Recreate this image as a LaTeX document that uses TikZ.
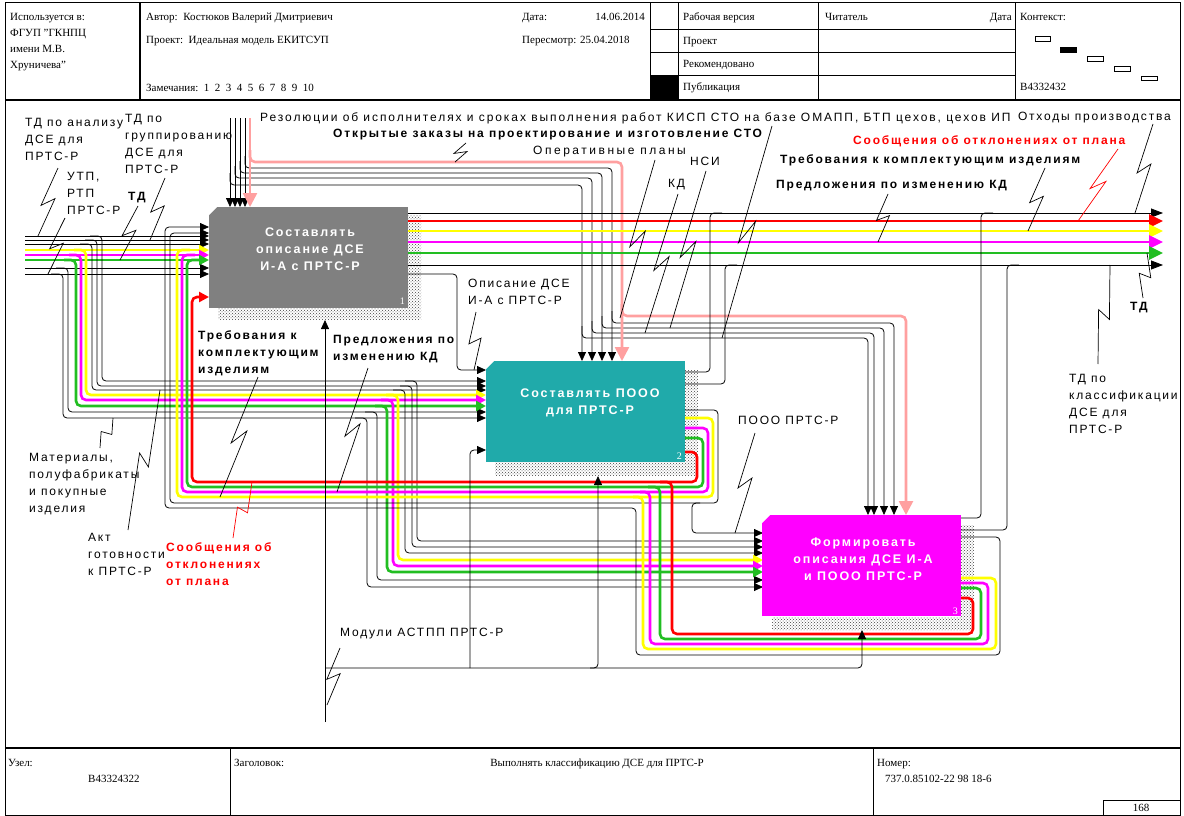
\documentclass[tikz,border=0pt]{standalone}
\usepackage{fontspec}
\setmainfont{Liberation Serif}
\newfontfamily\dg[LetterSpace=15]{Liberation Sans}
\newfontfamily\dgw[LetterSpace=16]{Liberation Sans}
\newfontfamily\dgm[LetterSpace=21]{Liberation Sans}
\usetikzlibrary{arrows.meta,patterns,calc}
\definecolor{pnk}{RGB}{255,160,160}
\definecolor{grn}{RGB}{34,190,34}
\definecolor{ylw}{RGB}{255,255,0}
\definecolor{mgt}{RGB}{255,0,255}
\definecolor{rd}{RGB}{255,0,0}
\definecolor{tl}{RGB}{32,170,170}
\definecolor{gb}{RGB}{128,128,128}
\newcommand\zig[3][black]{\draw[#1,line width=0.7pt] #2 -- ($#2!0.55!#3+(-6,0)$) -- ($#2!0.45!#3+(6,0)$) -- #3;}
\begin{document}
\begin{tikzpicture}[x=1pt,y=-1pt,
  ln/.style={line width=0.8pt,rounded corners=4pt},
  cl/.style={line width=2.6pt,rounded corners=5pt},
  ba/.style={-{Triangle[length=9pt,width=8pt]}},
  bba/.style={-{Triangle[length=12pt,width=9pt]}},
  ca/.style={-{Triangle[length=10pt,width=10pt]}},
  bigca/.style={-{Triangle[length=14pt,width=13pt]}},
  pa/.style={-{Triangle[length=14pt,width=14pt]}},
  ht/.style={font=\fontsize{11}{13}\selectfont,inner sep=0pt,anchor=base west},
  lb/.style={font=\dg\fontsize{12}{17}\selectfont,inner sep=0pt,anchor=north west,align=left},
  lbb/.style={inner sep=0pt,anchor=north west,align=left,font=\dg\bfseries\fontsize{12}{17}\selectfont},
  box/.style={draw=none,anchor=north west,minimum width=199pt,minimum height=101pt,inner sep=0pt},
  bt/.style={text=white,font=\dg\bfseries\fontsize{12.5}{17}\selectfont,align=center,inner sep=0pt},
  bn/.style={text=white,font=\fontsize{10}{10}\selectfont,anchor=south east,inner sep=0pt},
  sh/.style={pattern=crosshatch dots,pattern color=black!75},
]
\useasboundingbox (0,0) rectangle (1184,816);
\fill[white] (0,0) rectangle (1184,816);
% ---------- frame ----------
\draw[line width=1pt] (5,3) rectangle (1180,815);
\draw[line width=2pt] (5,100) -- (1180,100);
\draw[line width=2pt] (5,748) -- (1180,748);
\draw[line width=1.4pt] (140,3) -- (140,100);
\foreach \x in {650,678,818,1015} \draw[line width=1pt] (\x,3) -- (\x,100);
\foreach \y in {30,53,76} \draw[line width=1pt] (650,\y) -- (1015,\y);
\fill (650,76) rectangle (678,100);
\draw[line width=1pt] (230,748) -- (230,815);
\draw[line width=1pt] (873,748) -- (873,815);
\draw[line width=1pt] (1103,800) rectangle (1180,815);
\draw[line width=0.8pt] (1035,36) rectangle (1050,41);
\filldraw[line width=0.8pt] (1060,47) rectangle (1076,52);
\draw[line width=0.8pt] (1087,56) rectangle (1103,61);
\draw[line width=0.8pt] (1114,66) rectangle (1130,71);
\draw[line width=0.8pt] (1141,76) rectangle (1157,80);
% header text
\node[ht] (h1) at (10,21) {Используется в:};
\node[ht] (h2) at (10,37) {ФГУП "ГКНПЦ};
\node[ht] (h3) at (10,53) {имени М.В.};
\node[ht] (h4) at (10,69) {Хруничева"};
\node[ht] (h5) at (146,21) {Автор:\ \ Костюков Валерий Дмитриевич};
\node[ht] (h6) at (146,44) {Проект:\ \ Идеальная модель ЕКИТСУП};
\node[ht] (h7) at (146,92) {Замечания:\ \ 1\ \ 2\ \ 3\ \ 4\ \ 5\ \ 6\ \ 7\ \ 8\ \ 9\ \ 10};
\node[ht] (h8) at (522,21) {Дата:};
\node[ht,anchor=base east] (h9) at (645,21) {14.06.2014};
\node[ht] (h10) at (522,44) {Пересмотр: 25.04.2018};
\node[ht] (h11) at (683,21) {Рабочая версия};
\node[ht] (h12) at (683,45) {Проект};
\node[ht] (h13) at (683,68) {Рекомендовано};
\node[ht] (h14) at (683,91) {Публикация};
\node[ht] (h15) at (825,21) {Читатель};
\node[ht,anchor=base east] (h16) at (1012,21) {Дата};
\node[ht] (h17) at (1020,21) {Контекст:};
\node[ht] (h18) at (1020,91) {B4332432};
% footer text
\node[ht] (f1) at (8,766) {Узел:};
\node[ht] (f2) at (88,782) {B43324322};
\node[ht] (f3) at (234,766) {Заголовок:};
\node[ht,anchor=base] (f4) at (597,766) {Выполнять классификацию ДСЕ для ПРТС-Р};
\node[ht] (f5) at (877,766) {Номер:};
\node[ht] (f6) at (885,782) {737.0.85102-22 98 18-6};
\node[ht,anchor=base] (f7) at (1141,811) {168};
% ---------- shadows ----------
\fill[sh] (408,215) -- (421,215) -- (421,320) -- (218,320) -- (218,307) -- (408,307) -- cycle;
\fill[sh] (685,370) -- (698,370) -- (698,476) -- (495,476) -- (495,462) -- (685,462) -- cycle;
\fill[sh] (961,525) -- (974,525) -- (974,630) -- (772,630) -- (772,617) -- (961,617) -- cycle;
% ---------- left bundle ----------
\foreach \y in {236,240,244,268,274} \draw[ln,ba] (25,\y) -- (209,\y);
\draw[cl,ylw,ca] (25,250) -- (209,250);
\draw[cl,mgt,ca] (25,255) -- (209,255);
\draw[cl,grn,ca] (25,260) -- (209,260);
\foreach \y/\x/\z in {236/102/381,240/97/386,244/92/390,268/68/412,274/63/418}
  \draw[ln,ba] (\x-12,\y) -- (\x,\y) -- (\x,\z) -- (486,\z);
\draw[cl,ylw,ca] (74,250) -- (86,250) -- (86,395) -- (486,395);
\draw[cl,mgt,ca] (69,255) -- (81,255) -- (81,400) -- (486,400);
\draw[cl,grn,ca] (64,260) -- (76,260) -- (76,406) -- (486,406);
\foreach \y/\x/\z in {381/417/541,386/412/547,390/405/553,412/377/580,418/367/587}
  \draw[ln,ba] (\x-12,\y) -- (\x,\y) -- (\x,\z) -- (763,\z);
\draw[cl,ylw,ca] (386,395) -- (398,395) -- (398,560) -- (763,560);
\draw[cl,mgt,ca] (381,400) -- (393,400) -- (393,566) -- (763,566);
\draw[cl,grn,ca] (375,406) -- (387,406) -- (387,572) -- (763,572);
% ---------- top controls ----------
\foreach \x in {230,235,240,245} \draw[ln,ba] (\x,118) -- (\x,207);
\foreach \x/\y/\b/\c/\d in {245/168/612/323/894,240/173/602/328/884,235/178/592/333/874,230/185/582/338/868} {
  \draw[ln,ba] (\x,\y-12) -- (\x,\y) -- (\b,\y) -- (\b,361);
  \draw[ln,ba] (\b,\c-12) -- (\b,\c) -- (\d,\c) -- (\d,515);
}
\draw[cl,pnk,pa] (250,118) -- (250,207);
\draw[cl,pnk,pa] (250,150) -- (250,162) -- (622,162) -- (622,361);
\draw[cl,pnk,pa] (622,304) -- (622,316) -- (906,316) -- (906,515);
% ---------- box 1 outputs ----------
\draw[ln,bba] (408,213) -- (1163,213);
\draw[cl,rd,bigca] (408,221) -- (1163,221);
\draw[cl,ylw,bigca] (408,231) -- (1163,231);
\draw[cl,mgt,bigca] (408,242) -- (1163,242);
\draw[cl,grn,bigca] (408,253) -- (1163,253);
\draw[ln,bba] (408,265) -- (1163,265);
\draw[ln,ba] (408,274) -- (457,274) -- (457,370) -- (486,370);
% ---------- box 2 outputs ----------
\draw[ln] (685,372) -- (710,372) -- (710,213) -- (722,213);
\draw[ln] (685,384) -- (725,384) -- (725,265) -- (737,265);
\draw[ln,ba] (685,410) -- (718,410) -- (718,503) -- (692,503) -- (692,533) -- (763,533);
\draw[ln,ba] (700,503) -- (170,503) -- (170,233) -- (209,233);
\draw[cl,rd,ca] (685,452) -- (697,452) -- (697,482) -- (192,482) -- (192,297) -- (209,297);
\draw[cl,grn] (685,438) -- (703,438) -- (703,487) -- (187,487) -- (187,260) -- (200,260);
\draw[cl,mgt] (685,428) -- (708,428) -- (708,492) -- (182,492) -- (182,255) -- (195,255);
\draw[cl,ylw] (685,418) -- (713,418) -- (713,497) -- (177,497) -- (177,250) -- (190,250);
% ---------- box 3 outputs ----------
\draw[ln] (961,518) -- (981,518) -- (981,213) -- (993,213);
\draw[ln] (961,530) -- (1007,530) -- (1007,265) -- (1019,265);
\draw[ln,ba] (961,537) -- (1000,537) -- (1000,655) -- (636,655) -- (636,508) -- (165,508) -- (165,227) -- (209,227);
\draw[cl,rd] (961,598) -- (973,598) -- (973,634) -- (672,634) -- (672,482) -- (660,482);
\draw[cl,grn] (961,588) -- (981,588) -- (981,639) -- (660,639) -- (660,487) -- (648,487);
\draw[cl,mgt] (961,583) -- (988,583) -- (988,644) -- (650,644) -- (650,492) -- (640,492);
\draw[cl,ylw] (961,578) -- (996,578) -- (996,649) -- (643,649) -- (643,497) -- (633,497);
% ---------- mechanisms ----------
\draw[ln,ba] (325,722) -- (325,320);
\draw[ln,ba] (325,668) -- (598,668) -- (598,476);
\draw[ln,ba] (590,668) -- (862,668) -- (862,630);
\draw[ln,ba] (470,668) -- (470,450) -- (486,450);
% ---------- boxes ----------
\node[box,fill=gb] (b1) at (209,207) {};
\node[box,fill=tl] (b2) at (486,361) {};
\node[box,fill=mgt] (b3) at (762,515) {};
\foreach \b in {b1,b2,b3} \fill[white] (\b.north west) -- ++(8,0) -- ++(-8,8) -- cycle;
\node[bt] (t1) at (310,249) {Составлять\\описание ДСЕ\\И-А с ПРТС-Р};
\node[bt] (t2) at (590,403) {Составлять ПООО\\для ПРТС-Р};
\node[bt] (t3) at (863,559) {Формировать\\описания ДСЕ И-А\\и ПООО ПРТС-Р};
\node[bn] (n1) at (405,305) {1};
\node[bn] (n2) at (682,460) {2};
\node[bn] (n3) at (958,615) {3};
% ---------- labels ----------
\node[lb] (l1) at (25,118) {ТД по анализу\\ДСЕ для\\ПРТС-Р};
\node[lb] (l2) at (67,172) {УТП,\\РТП\\ПРТС-Р};
\node[lbb] (l3) at (128,192) {ТД};
\node[lb] (l4) at (125,114) {ТД по\\группированию\\ДСЕ для\\ПРТС-Р};
\node[lb,font=\dgw\fontsize{12}{17}\selectfont] (l5) at (260,112) {Резолюции об исполнителях и сроках выполнения работ КИСП СТО на базе ОМАПП, БТП цехов, цехов ИП};
\node[lb,anchor=north east] (l6) at (1171,112) {Отходы производства};
\node[lbb] (l7) at (333,129) {Открытые заказы на проектирование и изготовление СТО};
\node[lb,font=\dgm\fontsize{12}{17}\selectfont] (l8) at (533,146) {Оперативные планы};
\node[lb] (l9) at (690,157) {НСИ};
\node[lb] (l10) at (668,179) {КД};
\node[lbb,text=rd] (l11) at (853,135) {Сообщения об отклонениях от плана};
\node[lbb] (l12) at (780,154) {Требования к комплектующим изделиям};
\node[lbb] (l13) at (776,180) {Предложения по изменению КД};
\node[lbb] (l14) at (1130,302) {ТД};
\node[lb] (l15) at (1069,374) {ТД по\\классификации\\ДСЕ для\\ПРТС-Р};
\node[lb] (l16) at (468,279) {Описание ДСЕ\\И-А с ПРТС-Р};
\node[lbb] (l17) at (198,330) {Требования к\\комплектующим\\изделиям};
\node[lbb] (l18) at (333,335) {Предложения по\\изменению КД};
\node[lb] (l19) at (29,453) {Материалы,\\полуфабрикаты\\и покупные\\изделия};
\node[lb] (l20) at (88,533) {Акт\\готовности\\к ПРТС-Р};
\node[lbb,text=rd] (l21) at (166,542) {Сообщения об\\отклонениях\\от плана};
\node[lb] (l22) at (738,416) {ПООО ПРТС-Р};
\node[lb] (l23) at (340,628) {Модули АСТПП ПРТС-Р};
% ---------- leaders ----------
\zig{(58,168)}{(38,236)}
\zig{(65,218)}{(48,274)}
\zig{(138,206)}{(120,260)}
\zig{(165,178)}{(150,240)}
\zig{(466,143)}{(455,162)}
\zig{(772,126)}{(722,338)}
\zig{(655,160)}{(620,318)}
\zig{(678,194)}{(645,333)}
\zig{(706,171)}{(670,328)}
\zig[rd]{(1118,149)}{(1078,221)}
\zig{(1045,168)}{(1028,231)}
\zig{(888,194)}{(878,242)}
\zig{(1153,124)}{(1135,213)}
\zig{(1143,298)}{(1147,253)}
\zig{(1098,364)}{(1110,265)}
\zig{(476,312)}{(474,370)}
\zig{(258,377)}{(220,497)}
\zig{(368,368)}{(337,492)}
\zig{(100,448)}{(113,418)}
\zig{(128,530)}{(160,390)}
\zig[rd]{(233,538)}{(252,482)}
\zig{(755,433)}{(735,533)}
\zig{(340,648)}{(327,705)}
\end{tikzpicture}
\end{document}
